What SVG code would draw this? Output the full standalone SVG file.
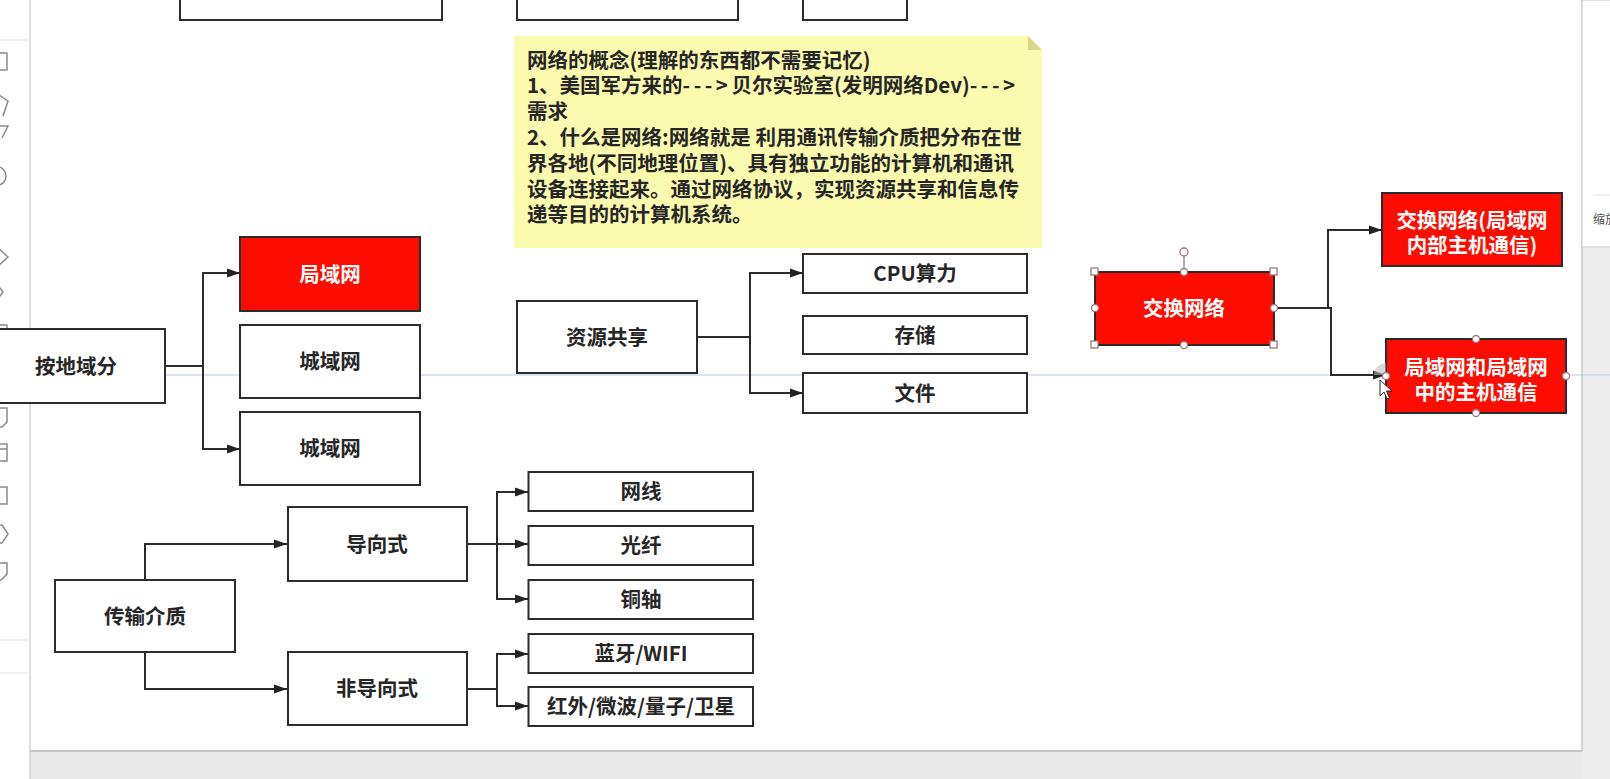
<svg xmlns="http://www.w3.org/2000/svg" width="1610" height="779" viewBox="0 0 1610 779">
<style>
.box{fill:#fff;stroke:#2b2b2b;stroke-width:2}
.red{fill:#fe0c00;stroke:#2b2b2b;stroke-width:2}
.t{font-family:"Noto Sans CJK SC","Liberation Sans",sans-serif;font-size:20.5px;font-weight:bold;fill:#262626;text-anchor:middle}
.w{fill:#fff}
.nt{font-family:"Noto Sans CJK SC","Liberation Sans",sans-serif;font-size:20.5px;font-weight:bold;fill:#262626}
.dash{letter-spacing:3.5px}
.edge{fill:none;stroke:#2b2b2b;stroke-width:2}
.ico{fill:none;stroke:#8a8a8a;stroke-width:1.5}
.hs{fill:#fff;stroke:#9a7a7a;stroke-width:1.3}
</style>
<defs>
<marker id="arr" markerWidth="13" markerHeight="10" refX="13" refY="5" orient="auto" markerUnits="userSpaceOnUse"><path d="M0,0.5 L13,5 L0,9.5 z" fill="#222"/></marker>
</defs>
<rect x="0" y="0" width="1610" height="779" fill="#fff"/>
<g id="chrome">
<rect x="30" y="751" width="1580" height="28" fill="#e9e9e9"/>
<line x1="30" y1="751" x2="1582" y2="751" stroke="#c4c4c4" stroke-width="2"/>
<rect x="1582" y="0" width="28" height="779" fill="#ececec"/>
<line x1="1582" y1="0" x2="1582" y2="751" stroke="#c8c8c8" stroke-width="1.5"/>
<rect x="1582" y="0" width="30" height="247" fill="#fff" stroke="#d6d6d6" stroke-width="1.5"/>
<line x1="1593" y1="195" x2="1610" y2="195" stroke="#e2e2e2" stroke-width="1"/>
<text x="1593" y="224" font-family="Noto Sans CJK SC,sans-serif" font-size="12" fill="#555">缩放</text>
<rect x="0" y="0" width="30" height="779" fill="#fff"/>
<line x1="30" y1="0" x2="30" y2="779" stroke="#d4d4d4" stroke-width="1.5"/>
<line x1="0" y1="40" x2="30" y2="40" stroke="#ececec" stroke-width="1.5"/>
<line x1="0" y1="382" x2="30" y2="382" stroke="#ececec" stroke-width="1.5"/>
<line x1="0" y1="640" x2="30" y2="640" stroke="#ececec" stroke-width="1.5"/>
<line x1="0" y1="673" x2="30" y2="673" stroke="#ececec" stroke-width="1.5"/>
<path class="ico" d="M-4,53 H7 V70 H-4"/>
<path class="ico" d="M-4,93 L8,101 L3,116"/>
<path class="ico" d="M-4,126 H8 L2,138"/>
<path class="ico" d="M-2,167 A8,9 0 0 1 -2,185"/>
<path class="ico" d="M-2,248 L8,257 L-2,266"/>
<path class="ico" d="M-3,284 L3,292 L-3,300"/>
<path class="ico" d="M-4,325 H7 V342 H-4"/>
<path class="ico" d="M-4,408 H7 V422 L2,427 H-4"/>
<path class="ico" d="M-4,444 H7 V461 H-4 M-4,449 H7"/>
<path class="ico" d="M-4,487 H7 V504 H-4"/>
<path class="ico" d="M-4,525 H2 L8,534 L2,543 H-4"/>
<path class="ico" d="M-4,563 H7 V574 L1,580 H-4"/>
<line x1="30" y1="375" x2="1610" y2="375" stroke="#b9cbe3" stroke-width="1.2"/>
</g>
<g id="connectors">
<path class="edge" d="M165,366 H203 V273 H240" marker-end="url(#arr)"/>
<path class="edge" d="M203,366 V449 H240" marker-end="url(#arr)"/>
<path class="edge" d="M697,337 H750 V273 H803" marker-end="url(#arr)"/>
<path class="edge" d="M750,337 V393 H803" marker-end="url(#arr)"/>
<path class="edge" d="M1274,308 H1328 V230 H1382" marker-end="url(#arr)"/>
<path class="edge" d="M1328,308 H1331 V375 H1386" marker-end="url(#arr)"/>
<path class="edge" d="M145,580 V544 H287" marker-end="url(#arr)"/>
<path class="edge" d="M145,652 V689 H287" marker-end="url(#arr)"/>
<path class="edge" d="M467,544 H497 V492 H528" marker-end="url(#arr)"/>
<path class="edge" d="M497,544 H528" marker-end="url(#arr)"/>
<path class="edge" d="M497,544 V599 H528" marker-end="url(#arr)"/>
<path class="edge" d="M467,689 H497 V654 H528" marker-end="url(#arr)"/>
<path class="edge" d="M497,689 V706 H528" marker-end="url(#arr)"/>
</g>
<g id="top1"><rect class="box" x="180" y="-10" width="262" height="30"/></g>
<g id="top2"><rect class="box" x="517" y="-10" width="221" height="30"/></g>
<g id="top3"><rect class="box" x="803" y="-10" width="104" height="30"/></g>
<g id="note">
<path d="M514,36 H1028 L1042,50 V248 H514 Z" fill="#fbfbb0"/>
<path d="M1028,36 L1042,50 H1028 Z" fill="#d8d88c"/>
<text class="nt">
<tspan x="527" y="67.5">网络的概念(理解的东西都不需要记忆)</tspan>
<tspan x="527" y="93.3">1、美国军方来的<tspan class="dash">---&gt;</tspan>贝尔实验室(发明网络Dev)<tspan class="dash">---&gt;</tspan></tspan>
<tspan x="527" y="119.1">需求</tspan>
<tspan x="527" y="144.9">2、什么是网络:网络就是 利用通讯传输介质把分布在世</tspan>
<tspan x="527" y="170.7">界各地(不同地理位置)、具有独立功能的计算机和通讯</tspan>
<tspan x="527" y="196.5">设备连接起来。通过网络协议，实现资源共享和信息传</tspan>
<tspan x="527" y="222.3">递等目的的计算机系统。</tspan>
</text>
</g>
<g id="n-region"><rect class="box" x="-15" y="329" width="180" height="74"/><text class="t" x="76" y="374">按地域分</text></g>
<g id="n-lan"><rect class="red" x="240" y="237" width="180" height="74"/><text class="t w" x="330" y="281.5">局域网</text></g>
<g id="n-man1"><rect class="box" x="240" y="325" width="180" height="73"/><text class="t" x="330" y="368.5">城域网</text></g>
<g id="n-man2"><rect class="box" x="240" y="412" width="180" height="73"/><text class="t" x="330" y="456">城域网</text></g>
<g id="n-share"><rect class="box" x="517" y="301" width="180" height="72"/><text class="t" x="607" y="344.5">资源共享</text></g>
<g id="n-cpu"><rect class="box" x="803" y="254" width="224" height="39"/><text class="t" x="915" y="280.5">CPU算力</text></g>
<g id="n-store"><rect class="box" x="803" y="316" width="224" height="38"/><text class="t" x="915" y="342.5">存储</text></g>
<g id="n-file"><rect class="box" x="803" y="373" width="224" height="40"/><text class="t" x="915" y="400.5">文件</text></g>
<g id="n-switch"><rect class="red" x="1095" y="272" width="179" height="73"/><text class="t w" x="1184" y="315.5">交换网络</text>
<line x1="1184" y1="256" x2="1184" y2="272" stroke="#9a7a7a" stroke-width="1.3"/>
<circle class="hs" cx="1184" cy="252" r="4"/>
<rect class="hs" x="1091" y="268" width="7" height="7"/><rect class="hs" x="1270" y="268" width="7" height="7"/>
<rect class="hs" x="1091" y="341" width="7" height="7"/><rect class="hs" x="1270" y="341" width="7" height="7"/>
<circle class="hs" cx="1184" cy="272" r="3.5"/><circle class="hs" cx="1184" cy="345" r="3.5"/>
<circle class="hs" cx="1095" cy="308" r="3.5"/><circle class="hs" cx="1274" cy="308" r="3.5"/>
</g>
<g id="n-sw-in"><rect class="red" x="1382" y="193" width="180" height="73"/><text class="t w"><tspan x="1472" y="227.5">交换网络(局域网</tspan><tspan x="1472" y="252.5">内部主机通信)</tspan></text></g>
<g id="n-sw-between"><rect class="red" x="1386" y="339" width="180" height="74"/><text class="t w"><tspan x="1476" y="374.5">局域网和局域网</tspan><tspan x="1476" y="399.5">中的主机通信</tspan></text>
<circle class="hs" cx="1476" cy="339" r="3.5"/><circle class="hs" cx="1476" cy="413" r="3.5"/>
<circle class="hs" cx="1566" cy="376" r="3.5"/>
<path d="M1386,363 A12,12 0 0 0 1374,375 H1386 Z" fill="#bbb" opacity="0.55"/>
<circle class="hs" cx="1386" cy="376" r="3.5"/>
<path d="M1380,380 L1380,396 L1384,392 L1387,399 L1389.5,398 L1386.5,391 L1392,391 Z" fill="#fff" stroke="#222" stroke-width="1"/>
</g>
<g id="n-media"><rect class="box" x="55" y="580" width="180" height="72"/><text class="t" x="145" y="623.5">传输介质</text></g>
<g id="n-guided"><rect class="box" x="288" y="507" width="179" height="74"/><text class="t" x="377" y="551.5">导向式</text></g>
<g id="n-unguided"><rect class="box" x="288" y="652" width="179" height="73"/><text class="t" x="377" y="695.5">非导向式</text></g>
<g id="n-cable"><rect class="box" x="528.5" y="472" width="224.5" height="39"/><text class="t" x="641" y="499">网线</text></g>
<g id="n-fiber"><rect class="box" x="528.5" y="526" width="224.5" height="39"/><text class="t" x="641" y="553">光纤</text></g>
<g id="n-coax"><rect class="box" x="528.5" y="580" width="224.5" height="39"/><text class="t" x="641" y="607">铜轴</text></g>
<g id="n-wifi"><rect class="box" x="528.5" y="634" width="224.5" height="39"/><text class="t" x="641" y="661">蓝牙/WIFI</text></g>
<g id="n-ir"><rect class="box" x="528.5" y="687" width="224.5" height="39"/><text class="t" x="641" y="714">红外/微波/量子/卫星</text></g>
</svg>
